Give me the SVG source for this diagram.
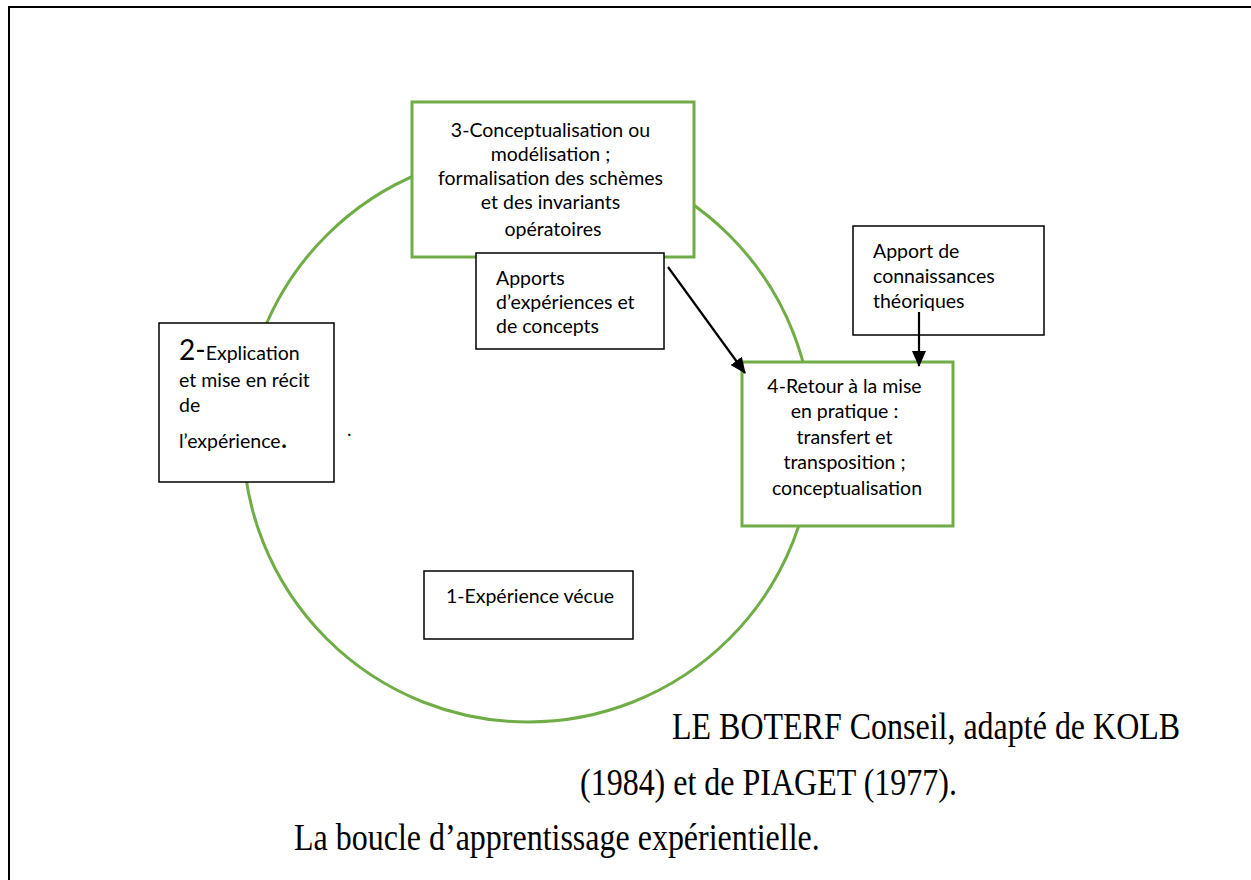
<svg xmlns="http://www.w3.org/2000/svg" width="1251" height="880" viewBox="0 0 1251 880">
<style>
.sans{font-family:Lato,"Open Sans","Liberation Sans",sans-serif;font-size:19.5px;fill:#000}
.serif{font-family:"Liberation Serif","Times New Roman",serif;font-size:32px;fill:#000}
.gbox{fill:#fff;stroke:#70AD47;stroke-width:3}
.bbox{fill:#fff;stroke:#000;stroke-width:1.5}
.conn{stroke:#000;stroke-width:2.2;fill:none}
</style>
<defs>
<marker id="ah" markerWidth="16" markerHeight="14" refX="15" refY="7" orient="auto" markerUnits="userSpaceOnUse">
<path d="M0,0 L16,7 L0,14 Z" fill="#000"/>
</marker>
</defs>
<rect width="1251" height="880" fill="#fff"/>
<rect id="frame" x="9" y="7" width="1260" height="900" fill="none" stroke="#000" stroke-width="2"/>
<circle id="loop" cx="528" cy="437" r="285" fill="none" stroke="#70AD47" stroke-width="3"/>
<g id="node3">
<rect class="gbox" x="412" y="102" width="282" height="155"/>
<text class="sans" text-anchor="middle">
<tspan x="553" y="137">3-Conceptualisation ou</tspan>
<tspan x="553" y="161">modélisation ;</tspan>
<tspan x="553" y="185">formalisation des schèmes</tspan>
<tspan x="553" y="209">et des invariants</tspan>
<tspan x="553" y="236">opératoires</tspan>
</text>
</g>
<g id="apports">
<rect class="bbox" x="476" y="253" width="188" height="96"/>
<text class="sans">
<tspan x="496" y="285">Apports</tspan>
<tspan x="496" y="309">d’expériences et</tspan>
<tspan x="496" y="333">de concepts</tspan>
</text>
</g>
<g id="theorie">
<rect class="bbox" x="853" y="226" width="191" height="109"/>
<text class="sans">
<tspan x="873" y="258">Apport de</tspan>
<tspan x="873" y="283">connaissances</tspan>
<tspan x="873" y="308">théoriques</tspan>
</text>
</g>
<g id="node4">
<rect class="gbox" x="742" y="362" width="211" height="164"/>
<text class="sans" text-anchor="middle">
<tspan x="847" y="393">4-Retour à la mise</tspan>
<tspan x="847" y="418">en pratique :</tspan>
<tspan x="847" y="444">transfert et</tspan>
<tspan x="847" y="469">transposition ;</tspan>
<tspan x="847" y="495">conceptualisation</tspan>
</text>
</g>
<g id="node2">
<rect class="bbox" x="159" y="323" width="175" height="159"/>
<text class="sans">
<tspan x="179" y="360"><tspan font-size="28">2-</tspan>Explication</tspan>
<tspan x="179" y="387">et mise en récit</tspan>
<tspan x="179" y="412">de</tspan>
<tspan x="179" y="448">l’expérience<tspan font-size="28">.</tspan></tspan>
</text>
<text class="sans" x="347" y="436" font-size="24">.</text>
</g>
<g id="node1">
<rect class="bbox" x="424" y="571" width="209" height="68"/>
<text class="sans" x="530" y="603" text-anchor="middle">1-Expérience vécue</text>
</g>
<g id="connectors">
<line class="conn" x1="668" y1="267" x2="745" y2="373" marker-end="url(#ah)"/>
<line class="conn" x1="919" y1="312" x2="919" y2="366" marker-end="url(#ah)"/>
</g>
<g id="caption">
<text class="serif" transform="translate(672 739) scale(1 1.2)">LE BOTERF Conseil, adapté de KOLB</text>
<text class="serif" transform="translate(580 795) scale(1 1.2)">(1984) et de PIAGET (1977).</text>
<text class="serif" transform="translate(294 850) scale(1 1.2)">La boucle d’apprentissage expérientielle.</text>
</g>
</svg>
